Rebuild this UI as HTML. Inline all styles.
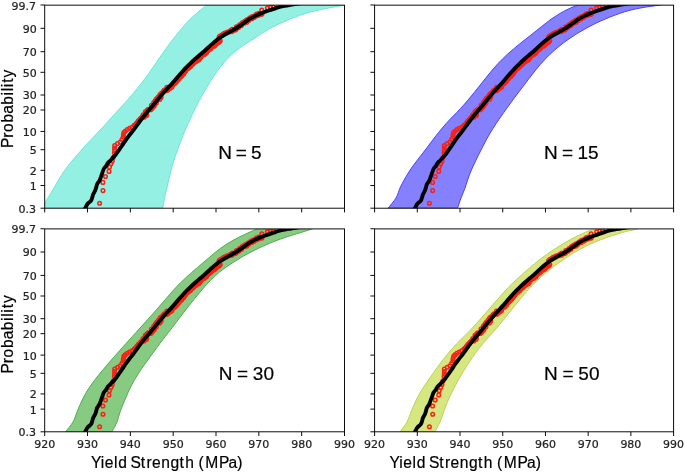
<!DOCTYPE html>
<html lang="en"><head><meta charset="utf-8"><title>Probability plots</title>
<style>html,body{margin:0;padding:0;background:#fff}svg{display:block;will-change:transform}</style></head>
<body>
<svg width="685" height="472" viewBox="0 0 685 472">
<rect width="685" height="472" fill="#fff"/>
<defs>
<clipPath id="c1"><rect x="44.70" y="5.15" width="299.80" height="203.05"/></clipPath>
<clipPath id="c2"><rect x="374.60" y="5.15" width="299.00" height="203.05"/></clipPath>
<clipPath id="c3"><rect x="44.70" y="228.90" width="299.80" height="202.90"/></clipPath>
<clipPath id="c4"><rect x="374.60" y="228.90" width="299.00" height="202.90"/></clipPath>
</defs>
<g clip-path="url(#c1)">
<path d="M40.00 208.20 C40.00 207.58 39.22 205.48 40.00 204.50 C40.78 203.52 43.42 203.37 44.70 202.30 C45.98 201.23 46.35 200.12 47.70 198.07 C49.05 196.02 51.02 193.01 52.83 190.00 C54.63 186.99 56.61 183.25 58.55 180.00 C60.49 176.75 62.38 173.50 64.47 170.50 C66.57 167.50 68.79 164.83 71.12 162.00 C73.46 159.17 75.84 156.50 78.47 153.50 C81.11 150.50 83.94 147.25 86.92 144.00 C89.91 140.75 93.24 137.33 96.38 134.00 C99.51 130.67 102.69 127.33 105.75 124.00 C108.81 120.67 111.73 117.33 114.75 114.00 C117.77 110.67 120.88 107.33 123.88 104.00 C126.88 100.67 129.92 97.33 132.75 94.00 C135.58 90.67 138.27 87.33 140.88 84.00 C143.48 80.67 145.96 77.33 148.38 74.00 C150.79 70.67 153.09 67.31 155.38 64.00 C157.66 60.69 159.76 57.44 162.07 54.12 C164.39 50.81 166.80 47.44 169.28 44.12 C171.75 40.81 174.54 37.27 176.95 34.25 C179.36 31.23 181.53 28.52 183.75 26.00 C185.97 23.48 188.00 21.33 190.25 19.12 C192.50 16.92 195.04 14.69 197.25 12.75 C199.46 10.81 201.96 8.76 203.50 7.50 C205.04 6.24 205.67 5.95 206.50 5.20 C207.33 4.45 208.17 3.37 208.50 3.00 L350.00 4.50 C349.08 4.63 346.08 5.07 344.50 5.30 C342.92 5.53 342.87 5.51 340.50 5.90 C338.13 6.29 333.75 7.00 330.27 7.65 C326.80 8.30 323.19 9.02 319.68 9.80 C316.16 10.58 312.55 11.40 309.20 12.32 C305.85 13.25 302.80 14.20 299.60 15.32 C296.40 16.45 293.27 17.73 290.00 19.07 C286.73 20.42 283.33 21.84 280.00 23.40 C276.67 24.96 273.33 26.58 270.00 28.45 C266.67 30.32 263.33 32.51 260.00 34.62 C256.67 36.74 253.38 38.92 250.00 41.12 C246.62 43.33 243.15 45.31 239.75 47.88 C236.35 50.44 232.69 53.48 229.60 56.50 C226.51 59.52 223.62 63.04 221.20 66.00 C218.78 68.96 216.90 71.67 215.10 74.25 C213.30 76.83 211.81 79.21 210.38 81.50 C208.94 83.79 207.74 85.92 206.50 88.00 C205.26 90.08 204.15 91.96 202.95 94.00 C201.75 96.04 200.54 98.04 199.32 100.25 C198.11 102.46 196.88 104.81 195.68 107.25 C194.47 109.69 193.28 112.29 192.07 114.88 C190.87 117.46 189.67 120.04 188.45 122.75 C187.23 125.46 185.97 128.21 184.75 131.12 C183.53 134.04 182.26 137.35 181.15 140.25 C180.04 143.15 179.04 145.96 178.10 148.50 C177.16 151.04 176.40 152.92 175.50 155.50 C174.60 158.08 173.61 160.92 172.70 164.00 C171.79 167.08 170.87 170.67 170.05 174.00 C169.23 177.33 168.64 180.33 167.80 184.00 C166.96 187.67 165.83 191.97 165.00 196.00 C164.17 200.03 163.17 206.17 162.80 208.20 Z" fill="#94F0E2" stroke="#6ae6d6" stroke-width="1.0" stroke-linejoin="round"/>
<g fill="none" stroke="#FA2014" stroke-width="1.5"><circle cx="99.6" cy="203.2" r="1.8"/><circle cx="103.0" cy="190.6" r="1.8"/><circle cx="102.9" cy="182.4" r="1.8"/><circle cx="105.5" cy="176.5" r="1.8"/><circle cx="109.0" cy="171.4" r="1.8"/><circle cx="109.5" cy="167.1" r="1.8"/><circle cx="111.0" cy="163.8" r="1.8"/><circle cx="112.3" cy="161.0" r="1.8"/><circle cx="113.2" cy="157.5" r="1.8"/><circle cx="114.4" cy="153.0" r="1.8"/><circle cx="114.6" cy="150.5" r="1.8"/><circle cx="114.6" cy="148.0" r="1.8"/><circle cx="114.7" cy="145.5" r="1.8"/><circle cx="117.5" cy="143.6" r="1.8"/><circle cx="120.2" cy="142.1" r="1.8"/><circle cx="122.0" cy="139.5" r="1.8"/><circle cx="123.2" cy="137.0" r="1.8"/><circle cx="123.4" cy="135.0" r="1.8"/><circle cx="123.9" cy="132.6" r="1.8"/><circle cx="125.2" cy="131.2" r="1.8"/><circle cx="127.2" cy="129.6" r="1.8"/><circle cx="129.5" cy="128.3" r="1.8"/><circle cx="131.9" cy="127.2" r="1.8"/><circle cx="134.2" cy="125.4" r="1.8"/><circle cx="135.3" cy="124.7" r="1.8"/><circle cx="136.3" cy="123.9" r="1.8"/><circle cx="136.9" cy="122.8" r="1.8"/><circle cx="137.9" cy="122.0" r="1.8"/><circle cx="138.3" cy="120.7" r="1.8"/><circle cx="139.7" cy="120.1" r="1.8"/><circle cx="140.2" cy="118.9" r="1.8"/><circle cx="141.2" cy="118.1" r="1.8"/><circle cx="142.0" cy="117.1" r="1.8"/><circle cx="144.1" cy="117.2" r="1.8"/><circle cx="143.1" cy="114.8" r="1.8"/><circle cx="146.3" cy="115.8" r="1.8"/><circle cx="146.8" cy="114.7" r="1.8"/><circle cx="145.3" cy="111.8" r="1.8"/><circle cx="146.4" cy="111.1" r="1.8"/><circle cx="147.4" cy="110.3" r="1.8"/><circle cx="148.1" cy="109.2" r="1.8"/><circle cx="150.7" cy="109.7" r="1.8"/><circle cx="151.4" cy="108.7" r="1.8"/><circle cx="152.5" cy="108.0" r="1.8"/><circle cx="151.4" cy="105.4" r="1.8"/><circle cx="154.2" cy="106.1" r="1.8"/><circle cx="154.5" cy="104.8" r="1.8"/><circle cx="153.7" cy="102.5" r="1.8"/><circle cx="156.4" cy="103.1" r="1.8"/><circle cx="155.3" cy="100.6" r="1.8"/><circle cx="156.2" cy="99.7" r="1.8"/><circle cx="156.7" cy="98.5" r="1.8"/><circle cx="159.8" cy="99.4" r="1.8"/><circle cx="158.4" cy="96.7" r="1.8"/><circle cx="161.2" cy="97.3" r="1.8"/><circle cx="159.9" cy="94.7" r="1.8"/><circle cx="160.8" cy="93.7" r="1.8"/><circle cx="162.0" cy="93.1" r="1.8"/><circle cx="162.8" cy="92.1" r="1.8"/><circle cx="163.6" cy="91.2" r="1.8"/><circle cx="164.3" cy="90.1" r="1.8"/><circle cx="166.7" cy="90.6" r="1.8"/><circle cx="167.8" cy="90.0" r="1.8"/><circle cx="166.9" cy="87.4" r="1.8"/><circle cx="169.8" cy="88.4" r="1.8"/><circle cx="170.8" cy="87.6" r="1.8"/><circle cx="172.0" cy="87.0" r="1.8"/><circle cx="172.1" cy="85.3" r="1.8"/><circle cx="172.9" cy="84.4" r="1.8"/><circle cx="174.0" cy="83.7" r="1.8"/><circle cx="175.3" cy="83.1" r="1.8"/><circle cx="175.4" cy="81.6" r="1.8"/><circle cx="176.9" cy="81.2" r="1.8"/><circle cx="177.3" cy="79.9" r="1.8"/><circle cx="178.4" cy="79.2" r="1.8"/><circle cx="179.3" cy="78.3" r="1.8"/><circle cx="179.9" cy="77.2" r="1.8"/><circle cx="181.0" cy="76.5" r="1.8"/><circle cx="182.0" cy="75.7" r="1.8"/><circle cx="182.2" cy="74.3" r="1.8"/><circle cx="183.7" cy="73.9" r="1.8"/><circle cx="183.9" cy="72.4" r="1.8"/><circle cx="185.0" cy="71.8" r="1.8"/><circle cx="185.7" cy="70.7" r="1.8"/><circle cx="186.3" cy="69.6" r="1.8"/><circle cx="187.2" cy="68.7" r="1.8"/><circle cx="188.4" cy="68.3" r="1.8"/><circle cx="189.0" cy="67.1" r="1.8"/><circle cx="190.4" cy="66.8" r="1.8"/><circle cx="190.9" cy="65.5" r="1.8"/><circle cx="191.8" cy="64.7" r="1.8"/><circle cx="193.0" cy="64.1" r="1.8"/><circle cx="193.8" cy="63.1" r="1.8"/><circle cx="194.6" cy="62.2" r="1.8"/><circle cx="195.8" cy="61.6" r="1.8"/><circle cx="196.7" cy="60.9" r="1.8"/><circle cx="197.8" cy="60.3" r="1.8"/><circle cx="199.0" cy="59.7" r="1.8"/><circle cx="199.7" cy="58.6" r="1.8"/><circle cx="200.4" cy="57.5" r="1.8"/><circle cx="201.2" cy="56.5" r="1.8"/><circle cx="202.0" cy="55.6" r="1.8"/><circle cx="203.0" cy="54.8" r="1.8"/><circle cx="204.4" cy="54.5" r="1.8"/><circle cx="204.8" cy="53.1" r="1.8"/><circle cx="206.4" cy="53.1" r="1.8"/><circle cx="206.9" cy="51.5" r="1.8"/><circle cx="207.9" cy="50.8" r="1.8"/><circle cx="208.7" cy="49.8" r="1.8"/><circle cx="209.9" cy="49.3" r="1.8"/><circle cx="210.9" cy="48.6" r="1.8"/><circle cx="211.6" cy="47.4" r="1.8"/><circle cx="212.3" cy="46.4" r="1.8"/><circle cx="213.9" cy="46.3" r="1.8"/><circle cx="214.9" cy="45.6" r="1.8"/><circle cx="215.6" cy="44.5" r="1.8"/><circle cx="216.6" cy="43.7" r="1.8"/><circle cx="217.2" cy="42.8" r="1.8"/><circle cx="218.5" cy="42.5" r="1.8"/><circle cx="219.5" cy="41.8" r="1.8"/><circle cx="220.3" cy="40.8" r="1.8"/><circle cx="219.1" cy="37.0" r="1.8"/><circle cx="220.1" cy="36.1" r="1.8"/><circle cx="221.2" cy="35.5" r="1.8"/><circle cx="222.3" cy="34.9" r="1.8"/><circle cx="223.3" cy="34.2" r="1.8"/><circle cx="224.3" cy="33.3" r="1.8"/><circle cx="225.9" cy="33.5" r="1.8"/><circle cx="226.6" cy="32.3" r="1.8"/><circle cx="228.0" cy="32.2" r="1.8"/><circle cx="229.2" cy="31.8" r="1.8"/><circle cx="230.1" cy="30.9" r="1.8"/><circle cx="232.0" cy="31.6" r="1.8"/><circle cx="232.2" cy="29.4" r="1.8"/><circle cx="233.9" cy="30.0" r="1.8"/><circle cx="235.4" cy="30.0" r="1.8"/><circle cx="236.3" cy="28.9" r="1.8"/><circle cx="236.4" cy="26.9" r="1.8"/><circle cx="238.4" cy="27.6" r="1.8"/><circle cx="239.2" cy="26.7" r="1.8"/><circle cx="239.6" cy="24.9" r="1.8"/><circle cx="241.5" cy="25.5" r="1.8"/><circle cx="241.7" cy="23.6" r="1.8"/><circle cx="242.5" cy="22.6" r="1.8"/><circle cx="244.4" cy="23.1" r="1.8"/><circle cx="244.7" cy="21.3" r="1.8"/><circle cx="246.8" cy="22.2" r="1.8"/><circle cx="246.8" cy="19.9" r="1.8"/><circle cx="248.7" cy="20.5" r="1.8"/><circle cx="249.0" cy="18.8" r="1.8"/><circle cx="250.0" cy="17.9" r="1.8"/><circle cx="251.9" cy="18.7" r="1.8"/><circle cx="252.1" cy="16.5" r="1.8"/><circle cx="254.1" cy="17.5" r="1.8"/><circle cx="254.5" cy="15.7" r="1.8"/><circle cx="256.1" cy="16.1" r="1.8"/><circle cx="256.6" cy="14.1" r="1.8"/><circle cx="258.4" cy="15.2" r="1.8"/><circle cx="259.0" cy="13.3" r="1.8"/><circle cx="260.7" cy="14.2" r="1.8"/><circle cx="262.0" cy="14.1" r="1.8"/><circle cx="261.8" cy="10.1" r="1.8"/><circle cx="267.4" cy="8.0" r="1.8"/><circle cx="270.6" cy="7.4" r="1.8"/><circle cx="273.2" cy="6.8" r="1.8"/></g>
<path d="M82.80 212.00 C83.27 211.23 84.80 208.77 85.60 207.40 C86.40 206.03 86.72 204.90 87.60 203.80 C88.48 202.70 90.13 201.82 90.90 200.80 C91.67 199.78 91.82 198.80 92.20 197.70 C92.58 196.60 92.70 195.38 93.20 194.20 C93.70 193.02 94.68 191.80 95.20 190.60 C95.72 189.40 95.97 188.10 96.30 187.00 C96.63 185.90 96.65 185.12 97.20 184.00 C97.75 182.88 98.95 181.58 99.60 180.30 C100.25 179.02 100.63 177.57 101.10 176.30 C101.57 175.03 101.97 173.90 102.40 172.70 C102.83 171.50 103.10 170.20 103.70 169.10 C104.30 168.00 105.32 167.12 106.00 166.10 C106.68 165.08 106.98 164.02 107.80 163.00 C108.62 161.98 109.60 161.37 110.90 160.00 C112.20 158.63 114.23 156.49 115.60 154.80 C116.97 153.11 118.00 151.47 119.12 149.88 C120.25 148.28 121.33 146.77 122.38 145.22 C123.42 143.68 124.34 142.19 125.43 140.62 C126.51 139.06 127.66 137.48 128.90 135.85 C130.14 134.22 131.58 132.52 132.88 130.83 C134.17 129.13 135.45 127.38 136.68 125.70 C137.90 124.02 139.04 122.33 140.22 120.75 C141.41 119.17 142.52 117.75 143.78 116.20 C145.03 114.65 146.33 113.18 147.78 111.48 C149.22 109.77 150.90 107.83 152.47 105.95 C154.05 104.07 155.71 102.03 157.22 100.20 C158.74 98.37 160.23 96.53 161.55 94.98 C162.87 93.43 163.95 92.22 165.15 90.90 C166.35 89.58 167.40 88.57 168.77 87.07 C170.15 85.58 171.82 83.74 173.40 81.95 C174.97 80.16 176.68 78.11 178.22 76.32 C179.77 74.54 181.28 72.77 182.67 71.22 C184.07 69.67 185.29 68.34 186.57 67.03 C187.86 65.71 188.96 64.66 190.38 63.33 C191.79 61.99 193.43 60.49 195.07 59.02 C196.72 57.56 198.54 56.02 200.25 54.55 C201.96 53.08 203.65 51.69 205.32 50.20 C207.00 48.71 208.67 47.10 210.32 45.60 C211.98 44.10 213.63 42.55 215.28 41.20 C216.93 39.85 218.57 38.63 220.23 37.50 C221.88 36.37 223.55 35.41 225.22 34.42 C226.90 33.44 228.62 32.54 230.30 31.60 C231.97 30.66 233.64 29.77 235.27 28.77 C236.91 27.78 238.49 26.76 240.12 25.65 C241.76 24.54 243.43 23.26 245.10 22.10 C246.78 20.94 248.49 19.71 250.18 18.68 C251.86 17.64 253.54 16.72 255.22 15.88 C256.91 15.03 258.60 14.32 260.30 13.62 C262.00 12.93 263.66 12.34 265.40 11.72 C267.14 11.11 268.99 10.52 270.75 9.91 C272.51 9.31 274.34 8.63 275.98 8.10 C277.61 7.57 279.01 7.10 280.55 6.71 C282.09 6.33 283.60 6.09 285.22 5.80 C286.85 5.51 288.60 5.25 290.30 4.97 C292.00 4.70 293.52 4.42 295.40 4.12 C297.28 3.83 299.17 3.53 301.60 3.17 C304.03 2.82 306.93 2.40 310.00 2.00 C313.07 1.60 318.33 1.00 320.00 0.80" fill="none" stroke="#000" stroke-width="3.85" stroke-linejoin="round" stroke-linecap="butt"/>
</g>
<rect x="44.70" y="5.15" width="299.80" height="203.05" fill="none" stroke="#000" stroke-width="0.95"/>
<path d="M44.70 5.00h-4.2M44.70 28.30h-4.2M44.70 51.70h-4.2M44.70 72.30h-4.2M44.70 95.00h-4.2M44.70 110.00h-4.2M44.70 131.45h-4.2M44.70 149.70h-4.2M44.70 170.30h-4.2M44.70 185.50h-4.2M44.70 208.20h-4.2M44.70 208.20v4.2M87.53 208.20v4.2M130.36 208.20v4.2M173.19 208.20v4.2M216.01 208.20v4.2M258.84 208.20v4.2M301.67 208.20v4.2M344.50 208.20v4.2" stroke="#000" stroke-width="0.95" fill="none"/>
<g clip-path="url(#c2)">
<path d="M388.00 208.20 C389.33 206.50 394.00 201.37 396.00 198.00 C398.00 194.63 398.46 191.33 400.00 188.00 C401.54 184.67 403.33 181.33 405.25 178.00 C407.17 174.67 409.21 171.33 411.50 168.00 C413.79 164.67 416.46 161.33 419.00 158.00 C421.54 154.67 424.21 151.33 426.75 148.00 C429.29 144.67 431.67 141.33 434.25 138.00 C436.83 134.67 439.65 131.08 442.25 128.00 C444.85 124.92 447.46 122.08 449.88 119.50 C452.29 116.92 454.29 115.08 456.75 112.50 C459.21 109.92 461.92 107.08 464.62 104.00 C467.33 100.92 470.27 97.33 473.00 94.00 C475.73 90.67 478.33 87.33 481.00 84.00 C483.67 80.67 486.23 77.33 489.00 74.00 C491.77 70.67 494.50 67.33 497.62 64.00 C500.75 60.67 504.15 57.29 507.75 54.00 C511.35 50.71 515.40 47.40 519.25 44.25 C523.10 41.10 527.17 38.06 530.88 35.12 C534.58 32.19 538.08 29.31 541.50 26.62 C544.92 23.94 548.12 21.29 551.38 19.00 C554.62 16.71 557.81 14.71 561.00 12.88 C564.19 11.04 567.92 9.21 570.50 8.00 C573.08 6.79 574.75 6.35 576.50 5.60 C578.25 4.85 580.25 3.85 581.00 3.50 L664.00 4.30 C663.00 4.48 660.33 5.05 658.00 5.40 C655.67 5.75 653.00 5.95 650.00 6.40 C647.00 6.85 643.33 7.46 640.00 8.10 C636.67 8.74 633.33 9.39 630.00 10.25 C626.67 11.11 623.33 12.12 620.00 13.25 C616.67 14.38 613.33 15.67 610.00 17.00 C606.67 18.33 603.33 19.73 600.00 21.25 C596.67 22.77 593.33 24.39 590.00 26.15 C586.67 27.91 583.33 29.80 580.00 31.80 C576.67 33.80 573.33 35.87 570.00 38.15 C566.67 40.43 563.33 42.82 560.00 45.50 C556.67 48.18 553.29 51.08 550.00 54.25 C546.71 57.42 543.29 61.04 540.25 64.50 C537.21 67.96 534.38 71.67 531.75 75.00 C529.12 78.33 526.92 81.33 524.50 84.50 C522.08 87.67 519.69 90.75 517.25 94.00 C514.81 97.25 512.12 100.92 509.88 104.00 C507.62 107.08 505.58 109.92 503.75 112.50 C501.92 115.08 500.62 116.92 498.88 119.50 C497.12 122.08 495.19 124.92 493.25 128.00 C491.31 131.08 489.12 134.67 487.25 138.00 C485.38 141.33 483.71 144.67 482.00 148.00 C480.29 151.33 478.62 154.67 477.00 158.00 C475.38 161.33 473.71 164.67 472.25 168.00 C470.79 171.33 469.46 174.67 468.25 178.00 C467.04 181.33 466.21 184.67 465.00 188.00 C463.79 191.33 462.23 194.63 461.00 198.00 C459.77 201.37 458.17 206.50 457.60 208.20 Z" fill="#8580FE" stroke="#4a42ff" stroke-width="1.0" stroke-linejoin="round"/>
<g fill="none" stroke="#FA2014" stroke-width="1.5"><circle cx="429.4" cy="203.2" r="1.8"/><circle cx="432.7" cy="190.6" r="1.8"/><circle cx="432.6" cy="182.4" r="1.8"/><circle cx="435.2" cy="176.5" r="1.8"/><circle cx="438.7" cy="171.4" r="1.8"/><circle cx="439.2" cy="167.1" r="1.8"/><circle cx="440.7" cy="163.8" r="1.8"/><circle cx="442.0" cy="161.0" r="1.8"/><circle cx="442.9" cy="157.5" r="1.8"/><circle cx="444.1" cy="153.0" r="1.8"/><circle cx="444.3" cy="150.5" r="1.8"/><circle cx="444.3" cy="148.0" r="1.8"/><circle cx="444.4" cy="145.5" r="1.8"/><circle cx="447.2" cy="143.6" r="1.8"/><circle cx="449.9" cy="142.1" r="1.8"/><circle cx="451.7" cy="139.5" r="1.8"/><circle cx="452.9" cy="137.0" r="1.8"/><circle cx="453.1" cy="135.0" r="1.8"/><circle cx="453.6" cy="132.6" r="1.8"/><circle cx="454.9" cy="131.2" r="1.8"/><circle cx="456.9" cy="129.6" r="1.8"/><circle cx="459.2" cy="128.3" r="1.8"/><circle cx="461.6" cy="127.2" r="1.8"/><circle cx="463.9" cy="125.4" r="1.8"/><circle cx="465.0" cy="124.7" r="1.8"/><circle cx="465.9" cy="123.9" r="1.8"/><circle cx="466.5" cy="122.8" r="1.8"/><circle cx="467.6" cy="122.0" r="1.8"/><circle cx="467.9" cy="120.7" r="1.8"/><circle cx="469.3" cy="120.1" r="1.8"/><circle cx="469.8" cy="118.9" r="1.8"/><circle cx="470.8" cy="118.1" r="1.8"/><circle cx="471.6" cy="117.1" r="1.8"/><circle cx="473.8" cy="117.2" r="1.8"/><circle cx="472.8" cy="114.8" r="1.8"/><circle cx="475.9" cy="115.8" r="1.8"/><circle cx="476.4" cy="114.7" r="1.8"/><circle cx="475.0" cy="111.8" r="1.8"/><circle cx="476.1" cy="111.1" r="1.8"/><circle cx="477.0" cy="110.3" r="1.8"/><circle cx="477.7" cy="109.2" r="1.8"/><circle cx="480.3" cy="109.7" r="1.8"/><circle cx="481.0" cy="108.7" r="1.8"/><circle cx="482.1" cy="108.0" r="1.8"/><circle cx="481.0" cy="105.4" r="1.8"/><circle cx="483.8" cy="106.1" r="1.8"/><circle cx="484.1" cy="104.8" r="1.8"/><circle cx="483.3" cy="102.5" r="1.8"/><circle cx="486.0" cy="103.1" r="1.8"/><circle cx="484.9" cy="100.6" r="1.8"/><circle cx="485.8" cy="99.7" r="1.8"/><circle cx="486.3" cy="98.5" r="1.8"/><circle cx="489.4" cy="99.4" r="1.8"/><circle cx="488.0" cy="96.7" r="1.8"/><circle cx="490.8" cy="97.3" r="1.8"/><circle cx="489.5" cy="94.7" r="1.8"/><circle cx="490.4" cy="93.7" r="1.8"/><circle cx="491.6" cy="93.1" r="1.8"/><circle cx="492.4" cy="92.1" r="1.8"/><circle cx="493.2" cy="91.2" r="1.8"/><circle cx="493.9" cy="90.1" r="1.8"/><circle cx="496.2" cy="90.6" r="1.8"/><circle cx="497.4" cy="90.0" r="1.8"/><circle cx="496.5" cy="87.4" r="1.8"/><circle cx="499.4" cy="88.4" r="1.8"/><circle cx="500.4" cy="87.6" r="1.8"/><circle cx="501.6" cy="87.0" r="1.8"/><circle cx="501.6" cy="85.3" r="1.8"/><circle cx="502.5" cy="84.4" r="1.8"/><circle cx="503.5" cy="83.7" r="1.8"/><circle cx="504.8" cy="83.1" r="1.8"/><circle cx="505.0" cy="81.6" r="1.8"/><circle cx="506.5" cy="81.2" r="1.8"/><circle cx="506.8" cy="79.9" r="1.8"/><circle cx="507.9" cy="79.2" r="1.8"/><circle cx="508.9" cy="78.3" r="1.8"/><circle cx="509.4" cy="77.2" r="1.8"/><circle cx="510.5" cy="76.5" r="1.8"/><circle cx="511.5" cy="75.7" r="1.8"/><circle cx="511.8" cy="74.3" r="1.8"/><circle cx="513.2" cy="73.9" r="1.8"/><circle cx="513.4" cy="72.4" r="1.8"/><circle cx="514.5" cy="71.8" r="1.8"/><circle cx="515.2" cy="70.7" r="1.8"/><circle cx="515.8" cy="69.6" r="1.8"/><circle cx="516.7" cy="68.7" r="1.8"/><circle cx="518.0" cy="68.3" r="1.8"/><circle cx="518.5" cy="67.1" r="1.8"/><circle cx="519.9" cy="66.8" r="1.8"/><circle cx="520.4" cy="65.5" r="1.8"/><circle cx="521.3" cy="64.7" r="1.8"/><circle cx="522.5" cy="64.1" r="1.8"/><circle cx="523.3" cy="63.1" r="1.8"/><circle cx="524.1" cy="62.2" r="1.8"/><circle cx="525.2" cy="61.6" r="1.8"/><circle cx="526.2" cy="60.9" r="1.8"/><circle cx="527.3" cy="60.3" r="1.8"/><circle cx="528.5" cy="59.7" r="1.8"/><circle cx="529.2" cy="58.6" r="1.8"/><circle cx="529.8" cy="57.5" r="1.8"/><circle cx="530.7" cy="56.5" r="1.8"/><circle cx="531.5" cy="55.6" r="1.8"/><circle cx="532.5" cy="54.8" r="1.8"/><circle cx="533.9" cy="54.5" r="1.8"/><circle cx="534.3" cy="53.1" r="1.8"/><circle cx="535.9" cy="53.1" r="1.8"/><circle cx="536.3" cy="51.5" r="1.8"/><circle cx="537.3" cy="50.8" r="1.8"/><circle cx="538.1" cy="49.8" r="1.8"/><circle cx="539.4" cy="49.3" r="1.8"/><circle cx="540.4" cy="48.6" r="1.8"/><circle cx="541.0" cy="47.4" r="1.8"/><circle cx="541.8" cy="46.4" r="1.8"/><circle cx="543.3" cy="46.3" r="1.8"/><circle cx="544.4" cy="45.6" r="1.8"/><circle cx="545.0" cy="44.5" r="1.8"/><circle cx="546.0" cy="43.7" r="1.8"/><circle cx="546.6" cy="42.8" r="1.8"/><circle cx="547.9" cy="42.5" r="1.8"/><circle cx="549.0" cy="41.8" r="1.8"/><circle cx="549.8" cy="40.8" r="1.8"/><circle cx="548.6" cy="37.0" r="1.8"/><circle cx="549.6" cy="36.1" r="1.8"/><circle cx="550.6" cy="35.5" r="1.8"/><circle cx="551.7" cy="34.9" r="1.8"/><circle cx="552.7" cy="34.2" r="1.8"/><circle cx="553.7" cy="33.3" r="1.8"/><circle cx="555.3" cy="33.5" r="1.8"/><circle cx="556.0" cy="32.3" r="1.8"/><circle cx="557.4" cy="32.2" r="1.8"/><circle cx="558.6" cy="31.8" r="1.8"/><circle cx="559.5" cy="30.9" r="1.8"/><circle cx="561.4" cy="31.6" r="1.8"/><circle cx="561.6" cy="29.4" r="1.8"/><circle cx="563.3" cy="30.0" r="1.8"/><circle cx="564.7" cy="30.0" r="1.8"/><circle cx="565.6" cy="28.9" r="1.8"/><circle cx="565.8" cy="26.9" r="1.8"/><circle cx="567.7" cy="27.6" r="1.8"/><circle cx="568.6" cy="26.7" r="1.8"/><circle cx="569.0" cy="24.9" r="1.8"/><circle cx="570.9" cy="25.5" r="1.8"/><circle cx="571.1" cy="23.6" r="1.8"/><circle cx="571.9" cy="22.6" r="1.8"/><circle cx="573.8" cy="23.1" r="1.8"/><circle cx="574.0" cy="21.3" r="1.8"/><circle cx="576.2" cy="22.2" r="1.8"/><circle cx="576.1" cy="19.9" r="1.8"/><circle cx="578.0" cy="20.5" r="1.8"/><circle cx="578.4" cy="18.8" r="1.8"/><circle cx="579.4" cy="17.9" r="1.8"/><circle cx="581.2" cy="18.7" r="1.8"/><circle cx="581.5" cy="16.5" r="1.8"/><circle cx="583.4" cy="17.5" r="1.8"/><circle cx="583.9" cy="15.7" r="1.8"/><circle cx="585.4" cy="16.1" r="1.8"/><circle cx="585.9" cy="14.1" r="1.8"/><circle cx="587.8" cy="15.2" r="1.8"/><circle cx="588.3" cy="13.3" r="1.8"/><circle cx="590.0" cy="14.2" r="1.8"/><circle cx="591.3" cy="14.1" r="1.8"/><circle cx="591.1" cy="10.1" r="1.8"/><circle cx="596.7" cy="8.0" r="1.8"/><circle cx="599.9" cy="7.4" r="1.8"/><circle cx="602.5" cy="6.8" r="1.8"/></g>
<path d="M412.60 212.00 C413.06 211.23 414.59 208.77 415.39 207.40 C416.19 206.03 416.50 204.90 417.39 203.80 C418.27 202.70 419.91 201.82 420.68 200.80 C421.44 199.78 421.59 198.80 421.97 197.70 C422.36 196.60 422.47 195.38 422.97 194.20 C423.47 193.02 424.45 191.80 424.97 190.60 C425.48 189.40 425.73 188.10 426.06 187.00 C426.39 185.90 426.41 185.12 426.96 184.00 C427.51 182.88 428.71 181.58 429.35 180.30 C430.00 179.02 430.38 177.57 430.85 176.30 C431.31 175.03 431.71 173.90 432.15 172.70 C432.58 171.50 432.84 170.20 433.44 169.10 C434.04 168.00 435.05 167.12 435.74 166.10 C436.42 165.08 436.72 164.02 437.53 163.00 C438.35 161.98 439.33 161.37 440.62 160.00 C441.92 158.63 443.94 156.49 445.31 154.80 C446.68 153.11 447.70 151.47 448.83 149.88 C449.95 148.28 451.02 146.77 452.07 145.22 C453.11 143.68 454.02 142.19 455.11 140.62 C456.19 139.06 457.34 137.48 458.58 135.85 C459.81 134.22 461.25 132.52 462.54 130.83 C463.83 129.13 465.11 127.38 466.33 125.70 C467.55 124.02 468.69 122.33 469.87 120.75 C471.05 119.17 472.16 117.75 473.41 116.20 C474.67 114.65 475.95 113.18 477.40 111.48 C478.85 109.77 480.52 107.83 482.09 105.95 C483.66 104.07 485.32 102.03 486.82 100.20 C488.33 98.37 489.82 96.53 491.14 94.98 C492.46 93.43 493.53 92.22 494.73 90.90 C495.93 89.58 496.97 88.57 498.34 87.07 C499.72 85.58 501.39 83.74 502.96 81.95 C504.53 80.16 506.23 78.11 507.77 76.32 C509.31 74.54 510.82 72.77 512.21 71.22 C513.59 69.67 514.82 68.34 516.10 67.03 C517.38 65.71 518.47 64.66 519.89 63.33 C521.30 61.99 522.93 60.49 524.57 59.02 C526.22 57.56 528.03 56.02 529.73 54.55 C531.44 53.08 533.12 51.69 534.80 50.20 C536.47 48.71 538.13 47.10 539.78 45.60 C541.44 44.10 543.07 42.55 544.72 41.20 C546.37 39.85 548.00 38.63 549.66 37.50 C551.31 36.37 552.97 35.41 554.64 34.42 C556.32 33.44 558.03 32.54 559.70 31.60 C561.38 30.66 563.03 29.77 564.67 28.77 C566.30 27.78 567.87 26.76 569.50 25.65 C571.14 24.54 572.79 23.26 574.47 22.10 C576.14 20.94 577.84 19.71 579.53 18.68 C581.21 17.64 582.88 16.72 584.56 15.88 C586.25 15.03 587.93 14.32 589.62 13.62 C591.32 12.93 592.97 12.34 594.71 11.72 C596.45 11.11 598.29 10.52 600.05 9.91 C601.80 9.31 603.63 8.63 605.26 8.10 C606.89 7.57 608.28 7.10 609.82 6.71 C611.36 6.33 612.86 6.09 614.48 5.80 C616.10 5.51 617.85 5.25 619.54 4.97 C621.24 4.70 622.75 4.42 624.63 4.12 C626.51 3.83 628.39 3.53 630.81 3.17 C633.24 2.82 636.13 2.40 639.19 2.00 C642.25 1.60 647.50 1.00 649.17 0.80" fill="none" stroke="#000" stroke-width="3.85" stroke-linejoin="round" stroke-linecap="butt"/>
</g>
<rect x="374.60" y="5.15" width="299.00" height="203.05" fill="none" stroke="#000" stroke-width="0.95"/>
<path d="M374.60 5.00h-4.2M374.60 28.30h-4.2M374.60 51.70h-4.2M374.60 72.30h-4.2M374.60 95.00h-4.2M374.60 110.00h-4.2M374.60 131.45h-4.2M374.60 149.70h-4.2M374.60 170.30h-4.2M374.60 185.50h-4.2M374.60 208.20h-4.2M374.60 208.20v4.2M417.31 208.20v4.2M460.03 208.20v4.2M502.74 208.20v4.2M545.46 208.20v4.2M588.17 208.20v4.2M630.89 208.20v4.2M673.60 208.20v4.2" stroke="#000" stroke-width="0.95" fill="none"/>
<g clip-path="url(#c3)">
<path d="M65.60 431.80 C66.83 430.17 71.10 425.30 73.00 422.00 C74.90 418.70 75.62 415.33 77.00 412.00 C78.38 408.67 79.67 405.33 81.25 402.00 C82.83 398.67 84.50 395.33 86.50 392.00 C88.50 388.67 90.81 385.33 93.25 382.00 C95.69 378.67 98.40 375.33 101.12 372.00 C103.85 368.67 106.72 365.33 109.60 362.00 C112.48 358.67 115.67 355.08 118.40 352.00 C121.13 348.92 123.67 346.08 126.00 343.50 C128.32 340.92 130.00 339.08 132.35 336.50 C134.70 333.92 137.29 331.08 140.07 328.00 C142.86 324.92 146.09 321.33 149.07 318.00 C152.06 314.67 155.05 311.33 157.98 308.00 C160.90 304.67 163.74 301.33 166.65 298.00 C169.56 294.67 172.31 291.33 175.45 288.00 C178.59 284.67 181.85 281.40 185.50 278.00 C189.15 274.60 193.38 271.08 197.38 267.62 C201.38 264.17 205.71 260.42 209.50 257.25 C213.29 254.08 216.71 251.15 220.12 248.62 C223.54 246.10 226.69 244.09 230.00 242.10 C233.31 240.11 236.67 238.38 240.00 236.70 C243.33 235.02 247.33 233.22 250.00 232.00 C252.67 230.78 254.33 230.15 256.00 229.40 C257.67 228.65 259.33 227.82 260.00 227.50 L314.00 228.30 C313.00 228.63 310.33 229.55 308.00 230.30 C305.67 231.05 303.00 231.88 300.00 232.80 C297.00 233.72 293.33 234.74 290.00 235.80 C286.67 236.86 283.33 237.96 280.00 239.18 C276.67 240.39 273.33 241.69 270.00 243.07 C266.67 244.46 263.33 245.91 260.00 247.48 C256.67 249.04 253.33 250.69 250.00 252.48 C246.67 254.26 243.33 256.20 240.00 258.20 C236.67 260.20 233.33 262.26 230.00 264.50 C226.67 266.74 223.25 269.00 220.00 271.62 C216.75 274.25 213.46 277.27 210.50 280.25 C207.54 283.23 204.88 286.46 202.25 289.50 C199.62 292.54 197.27 295.42 194.75 298.50 C192.23 301.58 189.67 304.75 187.12 308.00 C184.58 311.25 182.04 314.67 179.50 318.00 C176.96 321.33 174.25 324.92 171.88 328.00 C169.50 331.08 167.25 333.92 165.25 336.50 C163.25 339.08 161.81 340.92 159.88 343.50 C157.94 346.08 155.88 348.92 153.62 352.00 C151.38 355.08 148.75 358.67 146.38 362.00 C144.00 365.33 141.56 368.67 139.38 372.00 C137.19 375.33 135.10 378.67 133.25 382.00 C131.40 385.33 129.79 388.67 128.25 392.00 C126.71 395.33 125.38 398.67 124.00 402.00 C122.62 405.33 121.17 408.67 120.00 412.00 C118.83 415.33 118.33 418.70 117.00 422.00 C115.67 425.30 112.83 430.17 112.00 431.80 Z" fill="#87CA82" stroke="#52ad4e" stroke-width="1.0" stroke-linejoin="round"/>
<g fill="none" stroke="#FA2014" stroke-width="1.5"><circle cx="99.6" cy="426.8" r="1.8"/><circle cx="103.0" cy="414.2" r="1.8"/><circle cx="102.9" cy="406.0" r="1.8"/><circle cx="105.5" cy="400.1" r="1.8"/><circle cx="109.0" cy="395.0" r="1.8"/><circle cx="109.5" cy="390.7" r="1.8"/><circle cx="111.0" cy="387.4" r="1.8"/><circle cx="112.3" cy="384.6" r="1.8"/><circle cx="113.2" cy="381.1" r="1.8"/><circle cx="114.4" cy="376.6" r="1.8"/><circle cx="114.6" cy="374.1" r="1.8"/><circle cx="114.6" cy="371.6" r="1.8"/><circle cx="114.7" cy="369.1" r="1.8"/><circle cx="117.5" cy="367.2" r="1.8"/><circle cx="120.2" cy="365.7" r="1.8"/><circle cx="122.0" cy="363.2" r="1.8"/><circle cx="123.2" cy="360.7" r="1.8"/><circle cx="123.4" cy="358.7" r="1.8"/><circle cx="123.9" cy="356.3" r="1.8"/><circle cx="125.2" cy="354.9" r="1.8"/><circle cx="127.2" cy="353.3" r="1.8"/><circle cx="129.5" cy="352.0" r="1.8"/><circle cx="131.9" cy="350.9" r="1.8"/><circle cx="134.2" cy="349.1" r="1.8"/><circle cx="135.3" cy="348.4" r="1.8"/><circle cx="136.3" cy="347.5" r="1.8"/><circle cx="136.9" cy="346.4" r="1.8"/><circle cx="137.9" cy="345.7" r="1.8"/><circle cx="138.3" cy="344.4" r="1.8"/><circle cx="139.7" cy="343.8" r="1.8"/><circle cx="140.2" cy="342.6" r="1.8"/><circle cx="141.2" cy="341.8" r="1.8"/><circle cx="142.0" cy="340.8" r="1.8"/><circle cx="144.1" cy="340.9" r="1.8"/><circle cx="143.1" cy="338.5" r="1.8"/><circle cx="146.3" cy="339.5" r="1.8"/><circle cx="146.8" cy="338.3" r="1.8"/><circle cx="145.3" cy="335.4" r="1.8"/><circle cx="146.4" cy="334.7" r="1.8"/><circle cx="147.4" cy="333.9" r="1.8"/><circle cx="148.1" cy="332.8" r="1.8"/><circle cx="150.7" cy="333.4" r="1.8"/><circle cx="151.4" cy="332.4" r="1.8"/><circle cx="152.5" cy="331.7" r="1.8"/><circle cx="151.4" cy="329.1" r="1.8"/><circle cx="154.2" cy="329.8" r="1.8"/><circle cx="154.5" cy="328.5" r="1.8"/><circle cx="153.7" cy="326.2" r="1.8"/><circle cx="156.4" cy="326.8" r="1.8"/><circle cx="155.3" cy="324.3" r="1.8"/><circle cx="156.2" cy="323.4" r="1.8"/><circle cx="156.7" cy="322.2" r="1.8"/><circle cx="159.8" cy="323.1" r="1.8"/><circle cx="158.4" cy="320.4" r="1.8"/><circle cx="161.2" cy="321.0" r="1.8"/><circle cx="159.9" cy="318.3" r="1.8"/><circle cx="160.8" cy="317.4" r="1.8"/><circle cx="162.0" cy="316.8" r="1.8"/><circle cx="162.8" cy="315.8" r="1.8"/><circle cx="163.6" cy="314.9" r="1.8"/><circle cx="164.3" cy="313.8" r="1.8"/><circle cx="166.7" cy="314.3" r="1.8"/><circle cx="167.8" cy="313.7" r="1.8"/><circle cx="166.9" cy="311.1" r="1.8"/><circle cx="169.8" cy="312.1" r="1.8"/><circle cx="170.8" cy="311.3" r="1.8"/><circle cx="172.0" cy="310.6" r="1.8"/><circle cx="172.1" cy="309.0" r="1.8"/><circle cx="172.9" cy="308.1" r="1.8"/><circle cx="174.0" cy="307.4" r="1.8"/><circle cx="175.3" cy="306.8" r="1.8"/><circle cx="175.4" cy="305.3" r="1.8"/><circle cx="176.9" cy="304.9" r="1.8"/><circle cx="177.3" cy="303.6" r="1.8"/><circle cx="178.4" cy="302.9" r="1.8"/><circle cx="179.3" cy="302.0" r="1.8"/><circle cx="179.9" cy="300.9" r="1.8"/><circle cx="181.0" cy="300.2" r="1.8"/><circle cx="182.0" cy="299.4" r="1.8"/><circle cx="182.2" cy="298.0" r="1.8"/><circle cx="183.7" cy="297.6" r="1.8"/><circle cx="183.9" cy="296.1" r="1.8"/><circle cx="185.0" cy="295.5" r="1.8"/><circle cx="185.7" cy="294.4" r="1.8"/><circle cx="186.3" cy="293.3" r="1.8"/><circle cx="187.2" cy="292.4" r="1.8"/><circle cx="188.4" cy="292.0" r="1.8"/><circle cx="189.0" cy="290.8" r="1.8"/><circle cx="190.4" cy="290.5" r="1.8"/><circle cx="190.9" cy="289.2" r="1.8"/><circle cx="191.8" cy="288.4" r="1.8"/><circle cx="193.0" cy="287.8" r="1.8"/><circle cx="193.8" cy="286.9" r="1.8"/><circle cx="194.6" cy="285.9" r="1.8"/><circle cx="195.8" cy="285.3" r="1.8"/><circle cx="196.7" cy="284.6" r="1.8"/><circle cx="197.8" cy="284.0" r="1.8"/><circle cx="199.0" cy="283.4" r="1.8"/><circle cx="199.7" cy="282.3" r="1.8"/><circle cx="200.4" cy="281.2" r="1.8"/><circle cx="201.2" cy="280.2" r="1.8"/><circle cx="202.0" cy="279.3" r="1.8"/><circle cx="203.0" cy="278.5" r="1.8"/><circle cx="204.4" cy="278.2" r="1.8"/><circle cx="204.8" cy="276.8" r="1.8"/><circle cx="206.4" cy="276.8" r="1.8"/><circle cx="206.9" cy="275.3" r="1.8"/><circle cx="207.9" cy="274.5" r="1.8"/><circle cx="208.7" cy="273.5" r="1.8"/><circle cx="209.9" cy="273.1" r="1.8"/><circle cx="210.9" cy="272.3" r="1.8"/><circle cx="211.6" cy="271.2" r="1.8"/><circle cx="212.3" cy="270.2" r="1.8"/><circle cx="213.9" cy="270.0" r="1.8"/><circle cx="214.9" cy="269.3" r="1.8"/><circle cx="215.6" cy="268.2" r="1.8"/><circle cx="216.6" cy="267.4" r="1.8"/><circle cx="217.2" cy="266.5" r="1.8"/><circle cx="218.5" cy="266.2" r="1.8"/><circle cx="219.5" cy="265.5" r="1.8"/><circle cx="220.3" cy="264.5" r="1.8"/><circle cx="219.1" cy="260.8" r="1.8"/><circle cx="220.1" cy="259.9" r="1.8"/><circle cx="221.2" cy="259.2" r="1.8"/><circle cx="222.3" cy="258.6" r="1.8"/><circle cx="223.3" cy="257.9" r="1.8"/><circle cx="224.3" cy="257.0" r="1.8"/><circle cx="225.9" cy="257.2" r="1.8"/><circle cx="226.6" cy="256.0" r="1.8"/><circle cx="228.0" cy="255.9" r="1.8"/><circle cx="229.2" cy="255.5" r="1.8"/><circle cx="230.1" cy="254.6" r="1.8"/><circle cx="232.0" cy="255.3" r="1.8"/><circle cx="232.2" cy="253.1" r="1.8"/><circle cx="233.9" cy="253.7" r="1.8"/><circle cx="235.4" cy="253.7" r="1.8"/><circle cx="236.3" cy="252.7" r="1.8"/><circle cx="236.4" cy="250.6" r="1.8"/><circle cx="238.4" cy="251.3" r="1.8"/><circle cx="239.2" cy="250.4" r="1.8"/><circle cx="239.6" cy="248.6" r="1.8"/><circle cx="241.5" cy="249.2" r="1.8"/><circle cx="241.7" cy="247.4" r="1.8"/><circle cx="242.5" cy="246.4" r="1.8"/><circle cx="244.4" cy="246.8" r="1.8"/><circle cx="244.7" cy="245.0" r="1.8"/><circle cx="246.8" cy="246.0" r="1.8"/><circle cx="246.8" cy="243.7" r="1.8"/><circle cx="248.7" cy="244.3" r="1.8"/><circle cx="249.0" cy="242.5" r="1.8"/><circle cx="250.0" cy="241.7" r="1.8"/><circle cx="251.9" cy="242.4" r="1.8"/><circle cx="252.1" cy="240.3" r="1.8"/><circle cx="254.1" cy="241.3" r="1.8"/><circle cx="254.5" cy="239.5" r="1.8"/><circle cx="256.1" cy="239.9" r="1.8"/><circle cx="256.6" cy="237.8" r="1.8"/><circle cx="258.4" cy="238.9" r="1.8"/><circle cx="259.0" cy="237.0" r="1.8"/><circle cx="260.7" cy="237.9" r="1.8"/><circle cx="262.0" cy="237.9" r="1.8"/><circle cx="261.8" cy="233.8" r="1.8"/><circle cx="267.4" cy="231.7" r="1.8"/><circle cx="270.6" cy="231.1" r="1.8"/><circle cx="273.2" cy="230.5" r="1.8"/></g>
<path d="M82.80 435.60 C83.27 434.83 84.80 432.37 85.60 431.00 C86.40 429.63 86.72 428.50 87.60 427.40 C88.48 426.30 90.13 425.42 90.90 424.41 C91.67 423.39 91.82 422.41 92.20 421.31 C92.58 420.21 92.70 418.99 93.20 417.81 C93.70 416.63 94.68 415.41 95.20 414.21 C95.72 413.01 95.97 411.71 96.30 410.62 C96.63 409.52 96.65 408.73 97.20 407.62 C97.75 406.50 98.95 405.20 99.60 403.92 C100.25 402.64 100.63 401.19 101.10 399.92 C101.57 398.66 101.97 397.53 102.40 396.33 C102.83 395.13 103.10 393.83 103.70 392.73 C104.30 391.63 105.32 390.75 106.00 389.73 C106.68 388.72 106.98 387.65 107.80 386.63 C108.62 385.62 109.60 385.00 110.90 383.64 C112.20 382.27 114.23 380.13 115.60 378.44 C116.97 376.75 118.00 375.11 119.12 373.52 C120.25 371.92 121.33 370.41 122.38 368.87 C123.42 367.33 124.34 365.84 125.43 364.27 C126.51 362.71 127.66 361.14 128.90 359.50 C130.14 357.87 131.58 356.17 132.88 354.48 C134.17 352.79 135.45 351.04 136.68 349.36 C137.90 347.68 139.04 346.00 140.22 344.41 C141.41 342.83 142.52 341.41 143.78 339.87 C145.03 338.32 146.33 336.85 147.78 335.15 C149.22 333.44 150.90 331.50 152.47 329.63 C154.05 327.75 155.71 325.71 157.22 323.88 C158.74 322.05 160.23 320.21 161.55 318.66 C162.87 317.11 163.95 315.90 165.15 314.59 C166.35 313.27 167.40 312.26 168.77 310.76 C170.15 309.27 171.82 307.43 173.40 305.64 C174.97 303.85 176.68 301.81 178.22 300.02 C179.77 298.24 181.28 296.48 182.67 294.93 C184.07 293.38 185.29 292.04 186.57 290.73 C187.86 289.41 188.96 288.36 190.38 287.03 C191.79 285.70 193.43 284.20 195.07 282.74 C196.72 281.27 198.54 279.73 200.25 278.26 C201.96 276.79 203.65 275.41 205.32 273.92 C207.00 272.43 208.67 270.82 210.32 269.32 C211.98 267.82 213.63 266.27 215.28 264.92 C216.93 263.57 218.57 262.35 220.23 261.23 C221.88 260.10 223.55 259.14 225.22 258.15 C226.90 257.17 228.62 256.27 230.30 255.33 C231.97 254.39 233.64 253.50 235.27 252.51 C236.91 251.52 238.49 250.50 240.12 249.38 C241.76 248.27 243.43 247.00 245.10 245.84 C246.78 244.68 248.49 243.45 250.18 242.42 C251.86 241.38 253.54 240.46 255.22 239.62 C256.91 238.78 258.60 238.06 260.30 237.37 C262.00 236.68 263.66 236.09 265.40 235.47 C267.14 234.85 268.99 234.26 270.75 233.66 C272.51 233.06 274.34 232.38 275.98 231.85 C277.61 231.31 279.01 230.84 280.55 230.46 C282.09 230.08 283.60 229.84 285.22 229.55 C286.85 229.26 288.60 229.00 290.30 228.73 C292.00 228.45 293.52 228.18 295.40 227.88 C297.28 227.58 299.17 227.28 301.60 226.93 C304.03 226.57 306.93 226.15 310.00 225.75 C313.07 225.36 318.33 224.75 320.00 224.55" fill="none" stroke="#000" stroke-width="3.85" stroke-linejoin="round" stroke-linecap="butt"/>
</g>
<rect x="44.70" y="228.90" width="299.80" height="202.90" fill="none" stroke="#000" stroke-width="0.95"/>
<path d="M44.70 228.75h-4.2M44.70 252.03h-4.2M44.70 275.42h-4.2M44.70 296.00h-4.2M44.70 318.68h-4.2M44.70 333.67h-4.2M44.70 355.11h-4.2M44.70 373.34h-4.2M44.70 393.93h-4.2M44.70 409.12h-4.2M44.70 431.80h-4.2M44.70 431.80v4.2M87.53 431.80v4.2M130.36 431.80v4.2M173.19 431.80v4.2M216.01 431.80v4.2M258.84 431.80v4.2M301.67 431.80v4.2M344.50 431.80v4.2" stroke="#000" stroke-width="0.95" fill="none"/>
<g clip-path="url(#c4)">
<path d="M400.00 431.80 C401.17 430.17 405.17 425.30 407.00 422.00 C408.83 418.70 409.62 415.33 411.00 412.00 C412.38 408.67 413.67 405.33 415.25 402.00 C416.83 398.67 418.54 395.33 420.50 392.00 C422.46 388.67 424.75 385.33 427.00 382.00 C429.25 378.67 431.62 375.33 434.00 372.00 C436.38 368.67 438.71 365.33 441.25 362.00 C443.79 358.67 446.65 355.08 449.25 352.00 C451.85 348.92 454.42 346.08 456.88 343.50 C459.33 340.92 461.42 339.08 464.00 336.50 C466.58 333.92 469.50 331.08 472.38 328.00 C475.25 324.92 478.31 321.33 481.25 318.00 C484.19 314.67 487.08 311.33 490.00 308.00 C492.92 304.67 495.79 301.33 498.75 298.00 C501.71 294.67 504.50 291.35 507.75 288.00 C511.00 284.65 514.62 281.21 518.25 277.88 C521.88 274.54 525.88 271.08 529.50 268.00 C533.12 264.92 536.58 262.02 540.00 259.38 C543.42 256.73 546.67 254.43 550.00 252.15 C553.33 249.87 556.67 247.76 560.00 245.70 C563.33 243.64 566.67 241.63 570.00 239.80 C573.33 237.97 576.67 236.27 580.00 234.70 C583.33 233.13 587.67 231.32 590.00 230.40 C592.33 229.48 592.67 229.68 594.00 229.20 C595.33 228.72 597.33 227.78 598.00 227.50 L641.00 227.80 C640.17 228.03 637.83 228.73 636.00 229.20 C634.17 229.67 632.67 229.94 630.00 230.60 C627.33 231.26 623.33 232.21 620.00 233.15 C616.67 234.09 613.33 235.11 610.00 236.25 C606.67 237.39 603.33 238.67 600.00 240.00 C596.67 241.33 593.33 242.71 590.00 244.25 C586.67 245.79 583.33 247.42 580.00 249.25 C576.67 251.08 573.33 253.12 570.00 255.25 C566.67 257.38 563.33 259.65 560.00 262.00 C556.67 264.35 553.33 266.73 550.00 269.38 C546.67 272.02 543.29 274.83 540.00 277.88 C536.71 280.92 533.38 284.29 530.25 287.62 C527.12 290.96 524.12 294.48 521.25 297.88 C518.38 301.27 515.71 304.65 513.00 308.00 C510.29 311.35 507.71 314.67 505.00 318.00 C502.29 321.33 499.38 324.92 496.75 328.00 C494.12 331.08 491.54 333.92 489.25 336.50 C486.96 339.08 485.17 340.92 483.00 343.50 C480.83 346.08 478.54 348.92 476.25 352.00 C473.96 355.08 471.46 358.67 469.25 362.00 C467.04 365.33 465.00 368.67 463.00 372.00 C461.00 375.33 459.08 378.67 457.25 382.00 C455.42 385.33 453.64 388.67 452.00 392.00 C450.36 395.33 448.80 398.67 447.40 402.00 C446.00 405.33 444.83 408.67 443.60 412.00 C442.37 415.33 441.43 418.70 440.00 422.00 C438.57 425.30 435.83 430.17 435.00 431.80 Z" fill="#D6E680" stroke="#c0d052" stroke-width="1.0" stroke-linejoin="round"/>
<g fill="none" stroke="#FA2014" stroke-width="1.5"><circle cx="429.4" cy="426.8" r="1.8"/><circle cx="432.7" cy="414.2" r="1.8"/><circle cx="432.6" cy="406.0" r="1.8"/><circle cx="435.2" cy="400.1" r="1.8"/><circle cx="438.7" cy="395.0" r="1.8"/><circle cx="439.2" cy="390.7" r="1.8"/><circle cx="440.7" cy="387.4" r="1.8"/><circle cx="442.0" cy="384.6" r="1.8"/><circle cx="442.9" cy="381.1" r="1.8"/><circle cx="444.1" cy="376.6" r="1.8"/><circle cx="444.3" cy="374.1" r="1.8"/><circle cx="444.3" cy="371.6" r="1.8"/><circle cx="444.4" cy="369.1" r="1.8"/><circle cx="447.2" cy="367.2" r="1.8"/><circle cx="449.9" cy="365.7" r="1.8"/><circle cx="451.7" cy="363.2" r="1.8"/><circle cx="452.9" cy="360.7" r="1.8"/><circle cx="453.1" cy="358.7" r="1.8"/><circle cx="453.6" cy="356.3" r="1.8"/><circle cx="454.9" cy="354.9" r="1.8"/><circle cx="456.9" cy="353.3" r="1.8"/><circle cx="459.2" cy="352.0" r="1.8"/><circle cx="461.6" cy="350.9" r="1.8"/><circle cx="463.9" cy="349.1" r="1.8"/><circle cx="465.0" cy="348.4" r="1.8"/><circle cx="465.9" cy="347.5" r="1.8"/><circle cx="466.5" cy="346.4" r="1.8"/><circle cx="467.6" cy="345.7" r="1.8"/><circle cx="467.9" cy="344.4" r="1.8"/><circle cx="469.3" cy="343.8" r="1.8"/><circle cx="469.8" cy="342.6" r="1.8"/><circle cx="470.8" cy="341.8" r="1.8"/><circle cx="471.6" cy="340.8" r="1.8"/><circle cx="473.8" cy="340.9" r="1.8"/><circle cx="472.8" cy="338.5" r="1.8"/><circle cx="475.9" cy="339.5" r="1.8"/><circle cx="476.4" cy="338.3" r="1.8"/><circle cx="475.0" cy="335.4" r="1.8"/><circle cx="476.1" cy="334.7" r="1.8"/><circle cx="477.0" cy="333.9" r="1.8"/><circle cx="477.7" cy="332.8" r="1.8"/><circle cx="480.3" cy="333.4" r="1.8"/><circle cx="481.0" cy="332.4" r="1.8"/><circle cx="482.1" cy="331.7" r="1.8"/><circle cx="481.0" cy="329.1" r="1.8"/><circle cx="483.8" cy="329.8" r="1.8"/><circle cx="484.1" cy="328.5" r="1.8"/><circle cx="483.3" cy="326.2" r="1.8"/><circle cx="486.0" cy="326.8" r="1.8"/><circle cx="484.9" cy="324.3" r="1.8"/><circle cx="485.8" cy="323.4" r="1.8"/><circle cx="486.3" cy="322.2" r="1.8"/><circle cx="489.4" cy="323.1" r="1.8"/><circle cx="488.0" cy="320.4" r="1.8"/><circle cx="490.8" cy="321.0" r="1.8"/><circle cx="489.5" cy="318.3" r="1.8"/><circle cx="490.4" cy="317.4" r="1.8"/><circle cx="491.6" cy="316.8" r="1.8"/><circle cx="492.4" cy="315.8" r="1.8"/><circle cx="493.2" cy="314.9" r="1.8"/><circle cx="493.9" cy="313.8" r="1.8"/><circle cx="496.2" cy="314.3" r="1.8"/><circle cx="497.4" cy="313.7" r="1.8"/><circle cx="496.5" cy="311.1" r="1.8"/><circle cx="499.4" cy="312.1" r="1.8"/><circle cx="500.4" cy="311.3" r="1.8"/><circle cx="501.6" cy="310.6" r="1.8"/><circle cx="501.6" cy="309.0" r="1.8"/><circle cx="502.5" cy="308.1" r="1.8"/><circle cx="503.5" cy="307.4" r="1.8"/><circle cx="504.8" cy="306.8" r="1.8"/><circle cx="505.0" cy="305.3" r="1.8"/><circle cx="506.5" cy="304.9" r="1.8"/><circle cx="506.8" cy="303.6" r="1.8"/><circle cx="507.9" cy="302.9" r="1.8"/><circle cx="508.9" cy="302.0" r="1.8"/><circle cx="509.4" cy="300.9" r="1.8"/><circle cx="510.5" cy="300.2" r="1.8"/><circle cx="511.5" cy="299.4" r="1.8"/><circle cx="511.8" cy="298.0" r="1.8"/><circle cx="513.2" cy="297.6" r="1.8"/><circle cx="513.4" cy="296.1" r="1.8"/><circle cx="514.5" cy="295.5" r="1.8"/><circle cx="515.2" cy="294.4" r="1.8"/><circle cx="515.8" cy="293.3" r="1.8"/><circle cx="516.7" cy="292.4" r="1.8"/><circle cx="518.0" cy="292.0" r="1.8"/><circle cx="518.5" cy="290.8" r="1.8"/><circle cx="519.9" cy="290.5" r="1.8"/><circle cx="520.4" cy="289.2" r="1.8"/><circle cx="521.3" cy="288.4" r="1.8"/><circle cx="522.5" cy="287.8" r="1.8"/><circle cx="523.3" cy="286.9" r="1.8"/><circle cx="524.1" cy="285.9" r="1.8"/><circle cx="525.2" cy="285.3" r="1.8"/><circle cx="526.2" cy="284.6" r="1.8"/><circle cx="527.3" cy="284.0" r="1.8"/><circle cx="528.5" cy="283.4" r="1.8"/><circle cx="529.2" cy="282.3" r="1.8"/><circle cx="529.8" cy="281.2" r="1.8"/><circle cx="530.7" cy="280.2" r="1.8"/><circle cx="531.5" cy="279.3" r="1.8"/><circle cx="532.5" cy="278.5" r="1.8"/><circle cx="533.9" cy="278.2" r="1.8"/><circle cx="534.3" cy="276.8" r="1.8"/><circle cx="535.9" cy="276.8" r="1.8"/><circle cx="536.3" cy="275.3" r="1.8"/><circle cx="537.3" cy="274.5" r="1.8"/><circle cx="538.1" cy="273.5" r="1.8"/><circle cx="539.4" cy="273.1" r="1.8"/><circle cx="540.4" cy="272.3" r="1.8"/><circle cx="541.0" cy="271.2" r="1.8"/><circle cx="541.8" cy="270.2" r="1.8"/><circle cx="543.3" cy="270.0" r="1.8"/><circle cx="544.4" cy="269.3" r="1.8"/><circle cx="545.0" cy="268.2" r="1.8"/><circle cx="546.0" cy="267.4" r="1.8"/><circle cx="546.6" cy="266.5" r="1.8"/><circle cx="547.9" cy="266.2" r="1.8"/><circle cx="549.0" cy="265.5" r="1.8"/><circle cx="549.8" cy="264.5" r="1.8"/><circle cx="548.6" cy="260.8" r="1.8"/><circle cx="549.6" cy="259.9" r="1.8"/><circle cx="550.6" cy="259.2" r="1.8"/><circle cx="551.7" cy="258.6" r="1.8"/><circle cx="552.7" cy="257.9" r="1.8"/><circle cx="553.7" cy="257.0" r="1.8"/><circle cx="555.3" cy="257.2" r="1.8"/><circle cx="556.0" cy="256.0" r="1.8"/><circle cx="557.4" cy="255.9" r="1.8"/><circle cx="558.6" cy="255.5" r="1.8"/><circle cx="559.5" cy="254.6" r="1.8"/><circle cx="561.4" cy="255.3" r="1.8"/><circle cx="561.6" cy="253.1" r="1.8"/><circle cx="563.3" cy="253.7" r="1.8"/><circle cx="564.7" cy="253.7" r="1.8"/><circle cx="565.6" cy="252.7" r="1.8"/><circle cx="565.8" cy="250.6" r="1.8"/><circle cx="567.7" cy="251.3" r="1.8"/><circle cx="568.6" cy="250.4" r="1.8"/><circle cx="569.0" cy="248.6" r="1.8"/><circle cx="570.9" cy="249.2" r="1.8"/><circle cx="571.1" cy="247.4" r="1.8"/><circle cx="571.9" cy="246.4" r="1.8"/><circle cx="573.8" cy="246.8" r="1.8"/><circle cx="574.0" cy="245.0" r="1.8"/><circle cx="576.2" cy="246.0" r="1.8"/><circle cx="576.1" cy="243.7" r="1.8"/><circle cx="578.0" cy="244.3" r="1.8"/><circle cx="578.4" cy="242.5" r="1.8"/><circle cx="579.4" cy="241.7" r="1.8"/><circle cx="581.2" cy="242.4" r="1.8"/><circle cx="581.5" cy="240.3" r="1.8"/><circle cx="583.4" cy="241.3" r="1.8"/><circle cx="583.9" cy="239.5" r="1.8"/><circle cx="585.4" cy="239.9" r="1.8"/><circle cx="585.9" cy="237.8" r="1.8"/><circle cx="587.8" cy="238.9" r="1.8"/><circle cx="588.3" cy="237.0" r="1.8"/><circle cx="590.0" cy="237.9" r="1.8"/><circle cx="591.3" cy="237.9" r="1.8"/><circle cx="591.1" cy="233.8" r="1.8"/><circle cx="596.7" cy="231.7" r="1.8"/><circle cx="599.9" cy="231.1" r="1.8"/><circle cx="602.5" cy="230.5" r="1.8"/></g>
<path d="M412.60 435.60 C413.06 434.83 414.59 432.37 415.39 431.00 C416.19 429.63 416.50 428.50 417.39 427.40 C418.27 426.30 419.91 425.42 420.68 424.41 C421.44 423.39 421.59 422.41 421.97 421.31 C422.36 420.21 422.47 418.99 422.97 417.81 C423.47 416.63 424.45 415.41 424.97 414.21 C425.48 413.01 425.73 411.71 426.06 410.62 C426.39 409.52 426.41 408.73 426.96 407.62 C427.51 406.50 428.71 405.20 429.35 403.92 C430.00 402.64 430.38 401.19 430.85 399.92 C431.31 398.66 431.71 397.53 432.15 396.33 C432.58 395.13 432.84 393.83 433.44 392.73 C434.04 391.63 435.05 390.75 435.74 389.73 C436.42 388.72 436.72 387.65 437.53 386.63 C438.35 385.62 439.33 385.00 440.62 383.64 C441.92 382.27 443.94 380.13 445.31 378.44 C446.68 376.75 447.70 375.11 448.83 373.52 C449.95 371.92 451.02 370.41 452.07 368.87 C453.11 367.33 454.02 365.84 455.11 364.27 C456.19 362.71 457.34 361.14 458.58 359.50 C459.81 357.87 461.25 356.17 462.54 354.48 C463.83 352.79 465.11 351.04 466.33 349.36 C467.55 347.68 468.69 346.00 469.87 344.41 C471.05 342.83 472.16 341.41 473.41 339.87 C474.67 338.32 475.95 336.85 477.40 335.15 C478.85 333.44 480.52 331.50 482.09 329.63 C483.66 327.75 485.32 325.71 486.82 323.88 C488.33 322.05 489.82 320.21 491.14 318.66 C492.46 317.11 493.53 315.90 494.73 314.59 C495.93 313.27 496.97 312.26 498.34 310.76 C499.72 309.27 501.39 307.43 502.96 305.64 C504.53 303.85 506.23 301.81 507.77 300.02 C509.31 298.24 510.82 296.48 512.21 294.93 C513.59 293.38 514.82 292.04 516.10 290.73 C517.38 289.41 518.47 288.36 519.89 287.03 C521.30 285.70 522.93 284.20 524.57 282.74 C526.22 281.27 528.03 279.73 529.73 278.26 C531.44 276.79 533.12 275.41 534.80 273.92 C536.47 272.43 538.13 270.82 539.78 269.32 C541.44 267.82 543.07 266.27 544.72 264.92 C546.37 263.57 548.00 262.35 549.66 261.23 C551.31 260.10 552.97 259.14 554.64 258.15 C556.32 257.17 558.03 256.27 559.70 255.33 C561.38 254.39 563.03 253.50 564.67 252.51 C566.30 251.52 567.87 250.50 569.50 249.38 C571.14 248.27 572.79 247.00 574.47 245.84 C576.14 244.68 577.84 243.45 579.53 242.42 C581.21 241.38 582.88 240.46 584.56 239.62 C586.25 238.78 587.93 238.06 589.62 237.37 C591.32 236.68 592.97 236.09 594.71 235.47 C596.45 234.85 598.29 234.26 600.05 233.66 C601.80 233.06 603.63 232.38 605.26 231.85 C606.89 231.31 608.28 230.84 609.82 230.46 C611.36 230.08 612.86 229.84 614.48 229.55 C616.10 229.26 617.85 229.00 619.54 228.73 C621.24 228.45 622.75 228.18 624.63 227.88 C626.51 227.58 628.39 227.28 630.81 226.93 C633.24 226.57 636.13 226.15 639.19 225.75 C642.25 225.36 647.50 224.75 649.17 224.55" fill="none" stroke="#000" stroke-width="3.85" stroke-linejoin="round" stroke-linecap="butt"/>
</g>
<rect x="374.60" y="228.90" width="299.00" height="202.90" fill="none" stroke="#000" stroke-width="0.95"/>
<path d="M374.60 228.75h-4.2M374.60 252.03h-4.2M374.60 275.42h-4.2M374.60 296.00h-4.2M374.60 318.68h-4.2M374.60 333.67h-4.2M374.60 355.11h-4.2M374.60 373.34h-4.2M374.60 393.93h-4.2M374.60 409.12h-4.2M374.60 431.80h-4.2M374.60 431.80v4.2M417.31 431.80v4.2M460.03 431.80v4.2M502.74 431.80v4.2M545.46 431.80v4.2M588.17 431.80v4.2M630.89 431.80v4.2M673.60 431.80v4.2" stroke="#000" stroke-width="0.95" fill="none"/>
<g font-family="'DejaVu Sans', 'Liberation Sans', sans-serif" font-size="11" fill="#222" stroke="#222" stroke-width="0.22" style="font-kerning:none">
<text x="35.9" y="9.85" text-anchor="end">99.7</text>
<text x="36.7" y="32.70" text-anchor="end">90</text>
<text x="36.7" y="56.10" text-anchor="end">70</text>
<text x="36.7" y="76.70" text-anchor="end">50</text>
<text x="36.7" y="99.40" text-anchor="end">30</text>
<text x="36.7" y="114.40" text-anchor="end">20</text>
<text x="36.7" y="135.85" text-anchor="end">10</text>
<text x="36.7" y="154.10" text-anchor="end">5</text>
<text x="36.7" y="174.70" text-anchor="end">2</text>
<text x="36.7" y="189.90" text-anchor="end">1</text>
<text x="36.1" y="212.60" text-anchor="end">0.3</text>
<text x="35.9" y="232.70" text-anchor="end">99.7</text>
<text x="36.7" y="256.43" text-anchor="end">90</text>
<text x="36.7" y="279.82" text-anchor="end">70</text>
<text x="36.7" y="300.40" text-anchor="end">50</text>
<text x="36.7" y="323.08" text-anchor="end">30</text>
<text x="36.7" y="338.07" text-anchor="end">20</text>
<text x="36.7" y="359.51" text-anchor="end">10</text>
<text x="36.7" y="377.74" text-anchor="end">5</text>
<text x="36.7" y="398.33" text-anchor="end">2</text>
<text x="36.7" y="413.52" text-anchor="end">1</text>
<text x="36.1" y="436.20" text-anchor="end">0.3</text>
<text x="44.70" y="448.2" text-anchor="middle">920</text>
<text x="87.53" y="448.2" text-anchor="middle">930</text>
<text x="130.36" y="448.2" text-anchor="middle">940</text>
<text x="173.19" y="448.2" text-anchor="middle">950</text>
<text x="216.01" y="448.2" text-anchor="middle">960</text>
<text x="258.84" y="448.2" text-anchor="middle">970</text>
<text x="301.67" y="448.2" text-anchor="middle">980</text>
<text x="344.50" y="448.2" text-anchor="middle">990</text>
<text x="374.60" y="448.2" text-anchor="middle">920</text>
<text x="417.31" y="448.2" text-anchor="middle">930</text>
<text x="460.03" y="448.2" text-anchor="middle">940</text>
<text x="502.74" y="448.2" text-anchor="middle">950</text>
<text x="545.46" y="448.2" text-anchor="middle">960</text>
<text x="588.17" y="448.2" text-anchor="middle">970</text>
<text x="630.89" y="448.2" text-anchor="middle">980</text>
<text x="673.60" y="448.2" text-anchor="middle">990</text>
</g>
<g font-family="'Liberation Sans', sans-serif" fill="#000" stroke="#000" stroke-width="0.2" style="font-kerning:none">
<text x="218.17 231.66 235.87 246.54 251.11" y="158.70" font-size="19.00" xml:space="preserve">N = 5</text>
<text x="544.07 557.66 562.01 572.75 577.47 588.03" y="158.70" font-size="19.00" xml:space="preserve">N = 15</text>
<text x="218.71 232.43 236.98 247.83 252.75 263.53" y="380.20" font-size="19.00" xml:space="preserve">N = 30</text>
<text x="544.11 557.83 562.38 573.23 578.15 588.93" y="380.20" font-size="19.00" xml:space="preserve">N = 50</text>
<text x="91.12 100.80 104.79 113.99 118.23 127.33 130.39 140.63 146.40 152.09 161.37 170.40 179.60 185.24 194.34 198.59 205.19 218.92 228.42 237.26" y="468.40" font-size="15.60" xml:space="preserve">Yield Strength (MPa)</text>
<text x="389.62 399.30 403.29 412.49 416.73 425.83 428.89 439.13 444.90 450.59 459.87 468.90 478.10 483.74 492.84 497.09 503.69 517.42 526.92 535.76" y="468.40" font-size="15.60" xml:space="preserve">Yield Strength (MPa)</text>
<text transform="translate(12.90 147.30) rotate(-90)" x="-0.62 9.67 15.42 24.77 33.68 42.60 51.90 55.98 60.05 64.63 69.88" y="0" font-size="15.60">Probability</text>
<text transform="translate(12.90 372.90) rotate(-90)" x="-0.61 9.68 15.45 24.80 33.73 42.66 51.97 56.05 60.13 64.71 69.98" y="0" font-size="15.60">Probability</text>
</g>
</svg>
</body></html>
